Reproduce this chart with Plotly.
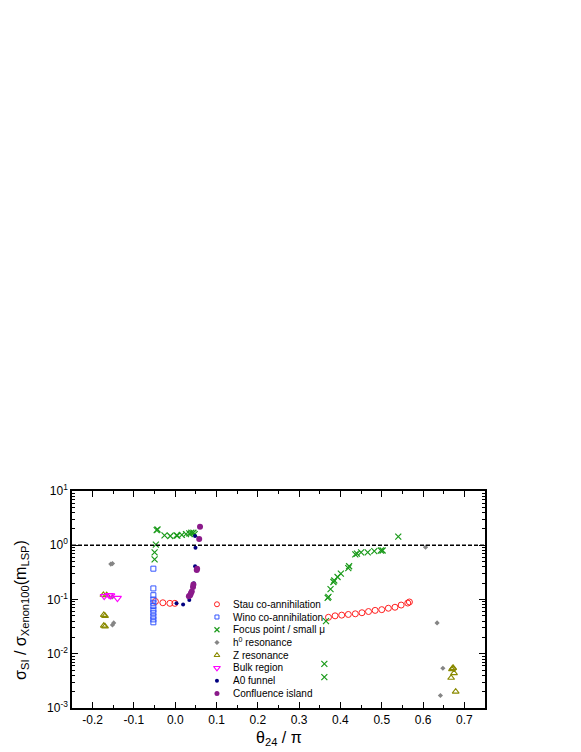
import plotly.graph_objects as go

# theta_24 / pi  and  sigma_SI / sigma_Xenon100 for each region
stau_x = [-0.048, -0.030, -0.013, -0.001, 0.371, 0.387, 0.403, 0.419, 0.436, 0.452,
          0.468, 0.484, 0.500, 0.516, 0.532, 0.547, 0.563, 0.567]
stau_y = [0.092, 0.087, 0.085, 0.085, 0.047, 0.050, 0.0515, 0.053, 0.0545, 0.057,
          0.060, 0.063, 0.065, 0.069, 0.072, 0.079, 0.086, 0.090]

wino_x = [-0.053] * 11
wino_y = [0.37, 0.16, 0.12, 0.10, 0.087, 0.076, 0.065, 0.057, 0.049, 0.043, 0.038]

focus_x = [-0.045, -0.043, -0.026, -0.012, 0.003, 0.005, 0.016, 0.026, 0.034, 0.039,
           0.044, 0.047, -0.047, -0.050, -0.050, 0.365, 0.361, 0.361, 0.369, 0.371,
           0.376, 0.385, 0.383, 0.393, 0.401, 0.421, 0.419, 0.436, 0.440, 0.450,
           0.466, 0.482, 0.498, 0.502, 0.540]
focus_y = [1.9, 1.95, 1.52, 1.48, 1.52, 1.5, 1.55, 1.6, 1.65, 1.7,
           1.7, 1.6, 1.03, 0.74, 0.55, 0.040, 0.0065, 0.0037, 0.107, 0.112,
           0.155, 0.224, 0.21, 0.26, 0.30, 0.41, 0.38, 0.68, 0.70, 0.74,
           0.74, 0.78, 0.80, 0.80, 1.44]

h0_x = [-0.156, -0.152, -0.152, -0.149, -0.152, 0.606, 0.634, 0.648, 0.642]
h0_y = [0.45, 0.46, 0.034, 0.037, 0.112, 0.92, 0.037, 0.0054, 0.0017]

z_x = [-0.174, -0.166, -0.173, -0.170, -0.173, -0.170, 0.673, 0.670, 0.675, 0.668, 0.679, 0.672]
z_y = [0.122, 0.12, 0.052, 0.050, 0.033, 0.032, 0.0055, 0.0052, 0.0044, 0.0036, 0.0020, 0.0054]

bulk_x = [-0.172, -0.160, -0.156, -0.140]
bulk_y = [0.115, 0.12, 0.118, 0.106]

a0_x = [0.003, 0.019, 0.034, 0.042, 0.045, 0.048, 0.049, 0.048]
a0_y = [0.085, 0.081, 0.098, 0.17, 0.2, 0.41, 0.9, 1.48]

conf_x = [0.033, 0.036, 0.038, 0.040, 0.043, 0.044, 0.052, 0.053, 0.058, 0.060]
conf_y = [0.115, 0.12, 0.13, 0.14, 0.17, 0.19, 0.35, 0.37, 1.3, 2.2]

series_names = ["Stau co-annihilation", "Wino co-annihilation", "Focus point / small \u03bc",
                "h<sup>0</sup> resonance", "Z resonance", "Bulk region", "A0 funnel",
                "Confluence island"]

x_tickvals = [-0.2, -0.1, 0.0, 0.1, 0.2, 0.3, 0.4, 0.5, 0.6, 0.7]
x_ticktext = ["-0.2", "-0.1", "0.0", "0.1", "0.2", "0.3", "0.4", "0.5", "0.6", "0.7"]
y_tickvals = [1e-3, 1e-2, 1e-1, 1e0, 1e1]
y_ticktext = ["10<sup>-3</sup>", "10<sup>-2</sup>", "10<sup>-1</sup>", "10<sup>0</sup>", "10<sup>1</sup>"]

FONT = "Arial, Liberation Sans, sans-serif"

styles = [
    dict(symbol="circle-open", color="#ff2020", size=6, line=dict(width=1)),
    dict(symbol="square-open", color="#3355ff", size=5, line=dict(width=1)),
    dict(symbol="x-thin-open", color="#1a9a1a", size=6, line=dict(width=1.2, color="#1a9a1a")),
    dict(symbol="diamond", color="#858585", size=4),
    dict(symbol="triangle-up-open", color="#8a8a00", size=6, line=dict(width=1.1)),
    dict(symbol="triangle-down-open", color="#ff00ff", size=7, line=dict(width=1.1)),
    dict(symbol="circle", color="#000080", size=4),
    dict(symbol="circle", color="#8a1a8a", size=6),
]
data = [(stau_x, stau_y), (wino_x, wino_y), (focus_x, focus_y), (h0_x, h0_y),
        (z_x, z_y), (bulk_x, bulk_y), (a0_x, a0_y), (conf_x, conf_y)]

fig = go.Figure()

for (xs, ys), st, name in zip(data, styles, series_names):
    fig.add_trace(go.Scatter(x=xs, y=ys, mode="markers", name=name,
                             marker=st, showlegend=False))

# hand-made legend (tighter row spacing than plotly's legend allows)
leg_top = 0.478
leg_step = 0.0587
for i, (st, name) in enumerate(zip(styles, series_names)):
    yy = leg_top - i * leg_step
    small = dict(st)
    small["size"] = max(st["size"] - 1, 4)
    fig.add_trace(go.Scatter(x=[0.351], y=[yy], mode="markers", marker=small,
                             xaxis="x2", yaxis="y2", showlegend=False, hoverinfo="skip"))
    fig.add_annotation(x=0.385, y=yy, xref="paper", yref="paper", text=name,
                       showarrow=False, xanchor="left", yanchor="middle",
                       font=dict(family=FONT, size=10, color="black"))

fig.add_hline(y=1, line=dict(color="black", width=1.5, dash="4px,2px"))

axis_common = dict(showline=True, linecolor="black", linewidth=1.5, mirror="ticks",
                   ticks="inside", ticklen=6, tickwidth=1.2, tickcolor="black",
                   showgrid=False, zeroline=False,
                   tickfont=dict(family=FONT, size=12, color="black"))

fig.update_xaxes(range=[-0.25, 0.75], tickvals=x_tickvals, ticktext=x_ticktext,
                 minor=dict(ticks="inside", ticklen=3.5, dtick=0.05, tick0=0, tickcolor="black"),
                 **axis_common)
minor_y = [k * 10 ** e for e in range(-3, 1) for k in range(2, 10)]
fig.update_yaxes(type="log", range=[-3, 1], tickvals=y_tickvals, ticktext=y_ticktext,
                 minor=dict(ticks="inside", ticklen=3.5, tickvals=minor_y, tickcolor="black"),
                 **axis_common)

fig.update_layout(
    width=581, height=752,
    margin=dict(l=64, r=104, t=483, b=52),
    plot_bgcolor="white", paper_bgcolor="white",
    showlegend=False,
    xaxis2=dict(overlaying="x", range=[0, 1], visible=False),
    yaxis2=dict(overlaying="y", range=[0, 1], visible=False),
)

fig.add_annotation(x=0.5, y=-0.088, xref="paper", yref="paper",
                   text="\u03b8<sub>24</sub> / \u03c0", showarrow=False,
                   xanchor="center", yanchor="top",
                   font=dict(family=FONT, size=16, color="black"))
fig.add_annotation(x=-0.121, y=0.452, xref="paper", yref="paper", textangle=-90,
                   text="\u03c3<sub>SI</sub> / \u03c3<sub>Xenon100</sub>(m<sub>LSP</sub>)",
                   showarrow=False, xanchor="center", yanchor="middle",
                   font=dict(family=FONT, size=16, color="black"))

fig.write_html("out.html")
